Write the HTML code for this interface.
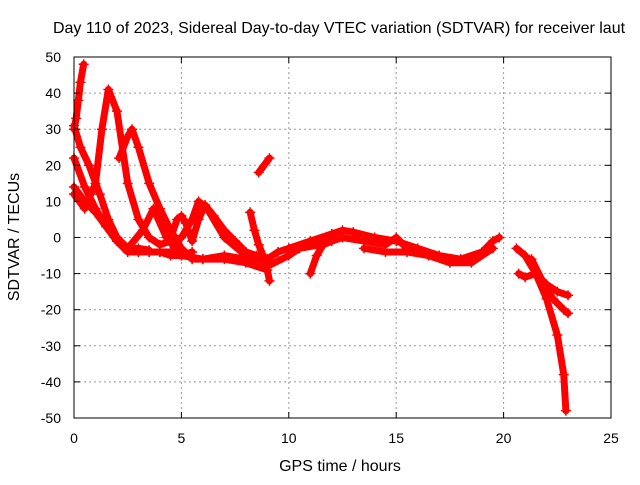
<!DOCTYPE html>
<html><head><meta charset="utf-8"><style>
body{margin:0;background:#fff;}
svg text{font-family:"Liberation Sans",sans-serif;font-size:14px;fill:#000;}
svg text.big{font-size:16px;}
</style></head><body>
<svg id="chart" width="640" height="480" xmlns="http://www.w3.org/2000/svg">
<text class="big" x="339" y="33" text-anchor="middle">Day 110 of 2023, Sidereal Day-to-day VTEC variation (SDTVAR) for receiver laut</text>
<g id="grid"></g><g id="series"></g>
<rect x="74" y="57" width="537" height="361" fill="none" stroke="#000" stroke-width="1"/>
<g id="ticks"></g>
<text class="big" x="340" y="471" text-anchor="middle">GPS time / hours</text>
<text class="big" transform="translate(19,237) rotate(-90)" text-anchor="middle">SDTVAR / TECUs</text>
</svg>
<script>
const xTicks=[0,5,10,15,20,25];
const yTicks=[-50,-40,-30,-20,-10,0,10,20,30,40,50];
const track1=[[0,30],[0.1,33],[0.2,38],[0.3,43],[0.45,48]];
const track2=[[0,31],[0.3,25],[0.7,20],[1.2,12],[1.6,5],[2,0],[2.5,-3],[3,-4],[3.5,-4],[4,-4],[4.5,-4],[5,-4]];
const track3=[[0,22],[0.5,14],[1,8],[1.5,3],[2,-1],[2.5,-3],[3,-3],[3.5,-3.5]];
const track4=[[0,14],[0.5,10],[1,7],[1.5,3],[2,-1],[2.5,-4],[3,-4],[3.5,-4],[4,-4],[4.5,-5],[5,-5],[6,-6],[7,-6],[8,-7],[9,-9],[9.1,-12]];
const track5=[[0,12],[0.5,8],[1,15],[1.3,30],[1.6,41],[2,35],[2.5,15],[3,5],[3.5,0],[4,-2],[5,0],[5.5,5],[5.8,10],[6.2,8],[7,0],[8,-5],[9,-7]];
const track6=[[2.1,22],[2.5,28],[2.7,30],[3,25],[3.5,15],[4,8],[4.5,2],[5,-3],[5.5,-6],[6,-6],[7,-5],[8,-6],[9,-6]];
const track7=[[2.5,-3],[3.2,2],[3.7,8],[4.3,0],[5,-5],[5.5,-4]];
const track8=[[4.5,0],[4.8,5],[5.0,6],[5.2,4],[5.5,-1],[5.8,5],[6.1,9],[6.5,6],[7,2],[7.5,-1],[8,-4],[8.5,-5],[9,-6]];
const track9=[[8.6,18],[9.1,22]];
const track10=[[8.2,7],[8.4,2],[8.6,-2],[8.8,-5],[9,-7]];
const track11=[[9,-6],[9.5,-4],[10,-3],[11,-1],[12,1],[12.5,2],[13,1.5],[14,0],[15,-1],[16,-3],[17,-5],[18,-6],[19,-4],[19.5,-1],[19.8,0]];
const track12=[[9,-8],[10,-5],[10.5,-3],[11.5,-2],[12.5,0],[13.5,-1],[14.5,-2],[15,0],[15.5,-3],[16.5,-5],[17.5,-7],[18.5,-7],[19.5,-3]];
const track13=[[11,-10],[11.3,-5],[11.6,-2],[12,-1]];
const track14=[[13.5,-3],[14.5,-4],[15.5,-4],[16.5,-5],[17.5,-6]];
const track15=[[20.6,-3],[21,-5],[21.5,-10],[22,-17],[22.5,-27],[22.8,-38],[22.9,-48]];
const track16=[[20.7,-10],[21,-11],[21.5,-10],[22,-13],[22.5,-15],[23,-16]];
const track17=[[21.3,-6],[21.8,-12],[22.3,-17],[22.8,-20],[23,-21]];
const tracks=[track1,track2,track3,track4,track5,track6,track7,track8,track9,track10,track11,track12,track13,track14,track15,track16,track17];
const X=t=>74+t*537/25, Y=v=>237.5-v*361/100;
const NS='http://www.w3.org/2000/svg';
const grid=document.getElementById('grid'),ticks=document.getElementById('ticks'),ser=document.getElementById('series');
function mk(tag,attrs,parent){const e=document.createElementNS(NS,tag);for(const k in attrs)e.setAttribute(k,attrs[k]);parent.appendChild(e);return e;}
xTicks.forEach(t=>{const x=X(t);
 if(t>0&&t<25){const g=mk('line',{x1:x,y1:57,x2:x,y2:418,stroke:'#999','stroke-dasharray':'2,3'},grid);
 
 }
 mk('line',{x1:x,y1:418,x2:x,y2:412,stroke:'#000'},ticks);mk('line',{x1:x,y1:57,x2:x,y2:63,stroke:'#000'},ticks);
 const l=mk('text',{x:x,y:443,'text-anchor':'middle'},ticks);l.textContent=t;
 
 });
yTicks.forEach(v=>{const y=Y(v);
 if(v>-50&&v<50){const g=mk('line',{x1:74,y1:y,x2:611,y2:y,stroke:'#999','stroke-dasharray':'2,3'},grid);
 
 }
 mk('line',{x1:74,y1:y,x2:80,y2:y,stroke:'#000'},ticks);mk('line',{x1:611,y1:y,x2:605,y2:y,stroke:'#000'},ticks);
 const l=mk('text',{x:61,y:y+5,'text-anchor':'end'},ticks);l.textContent=v;
 
 });
tracks.forEach((tr,i)=>{
 const p=mk('polyline',{points:tr.map(d=>X(d[0])+','+Y(d[1])).join(' '),fill:'none',stroke:'#f00','stroke-width':7,'stroke-linejoin':'round','stroke-linecap':'round'},ser);
 
 
 tr.forEach(d=>{const x=X(d[0]),y=Y(d[1]);
  const m=mk('path',{d:`M${x-5},${y}H${x+5}M${x},${y-5}V${y+5}`,stroke:'#f00','stroke-width':1.5},ser);
  
  });
});
</script>
</body></html>
